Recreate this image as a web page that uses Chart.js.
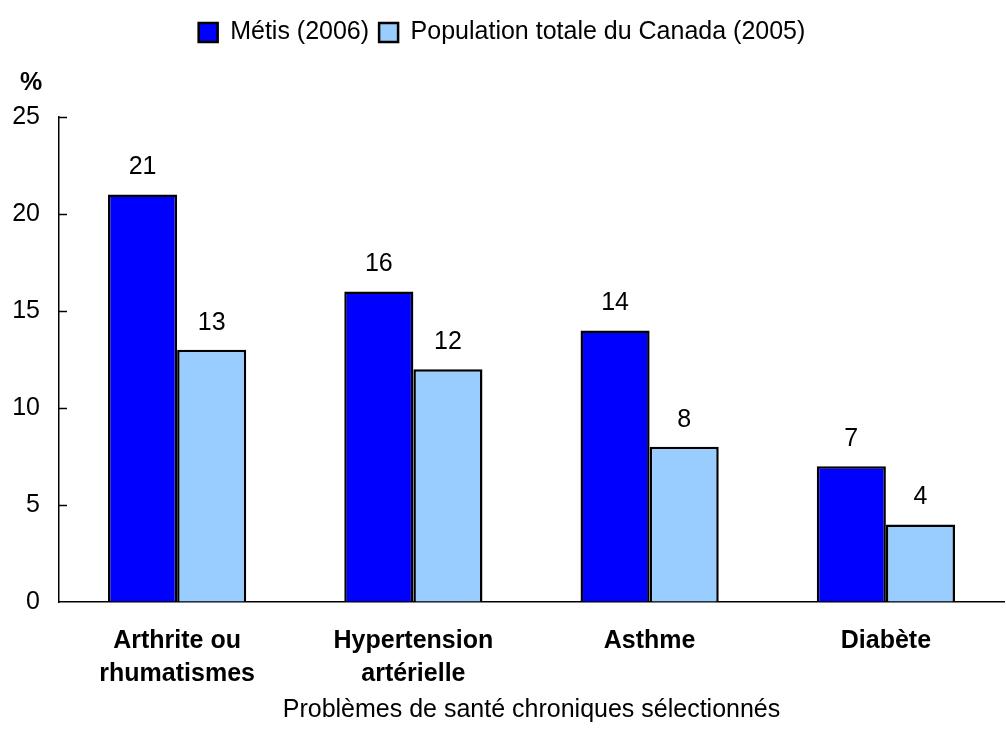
<!DOCTYPE html>
<html>
<head>
<meta charset="utf-8">
<script src="https://cdn.jsdelivr.net/npm/chart.js@4/dist/chart.umd.min.js"></script>
<style>
  html, body { margin: 0; padding: 0; background: #fff; }
  #wrap { width: 1006px; height: 739px; }
</style>
</head>
<body>
<div id="wrap"><canvas id="grafico"></canvas></div>
<script>
const categorias = [
    ['Arthrite ou', 'rhumatismes'],
    ['Hypertension', 'artérielle'],
    'Asthme',
    'Diabète'
];
const metis = [21, 16, 14, 7];
const populationCanada = [13, 12, 8, 4];
const ticksY = [0, 5, 10, 15, 20, 25];

const fuente = "'Liberation Sans', Arial, sans-serif";
Chart.defaults.font.family = fuente;
Chart.defaults.color = '#000';

// etiquetas de valor encima de cada barra
const valoresEncima = {
    id: 'valoresEncima',
    afterDatasetsDraw(chart) {
        const ctx = chart.ctx;
        ctx.save();
        ctx.font = '25px ' + fuente;
        ctx.fillStyle = '#000';
        ctx.textAlign = 'center';
        ctx.textBaseline = 'middle';
        chart.data.datasets.forEach((ds, i) => {
            chart.getDatasetMeta(i).data.forEach((barra, j) => {
                ctx.fillText(ds.data[j], barra.x, barra.y - 27);
            });
        });
        ctx.restore();
    }
};

// marcas del eje Y hacia adentro y el símbolo %
const ejeY = {
    id: 'ejeY',
    afterDraw(chart) {
        const y = chart.scales.y;
        const ctx = chart.ctx;
        ctx.save();
        ctx.strokeStyle = '#000';
        ctx.lineWidth = 1.5;
        ticksY.forEach(v => {
            if (v === 0) return;
            const py = Math.round(y.getPixelForValue(v)) + 0.5;
            ctx.beginPath();
            ctx.moveTo(y.right, py);
            ctx.lineTo(y.right + 8, py);
            ctx.stroke();
        });
        ctx.font = 'bold 25px ' + fuente;
        ctx.fillStyle = '#000';
        ctx.textAlign = 'center';
        ctx.textBaseline = 'middle';
        ctx.fillText('%', 31, y.top - 34);
        ctx.restore();
    }
};

// espacio extra bajo la leyenda
const altoLeyenda = {
    id: 'altoLeyenda',
    beforeInit(chart) {
        const fitOriginal = chart.legend.fit;
        chart.legend.fit = function () {
            fitOriginal.bind(chart.legend)();
            this.height += 62;
        };
    }
};

const ctx = document.getElementById('grafico').getContext('2d');
new Chart(ctx, {
    type: 'bar',
    data: {
        labels: categorias,
        datasets: [
            {
                label: 'Métis (2006)',
                data: metis,
                backgroundColor: '#0000FF',
                borderColor: '#000',
                borderWidth: 2.5
            },
            {
                label: 'Population totale du Canada (2005)',
                data: populationCanada,
                backgroundColor: '#99CCFF',
                borderColor: '#000',
                borderWidth: 2.5
            }
        ]
    },
    options: {
        responsive: true,
        maintainAspectRatio: false,
        animation: false,
        layout: { padding: { top: 10, right: 2, left: 0, bottom: 0 } },
        datasets: {
            bar: { categoryPercentage: 0.585, barPercentage: 1 }
        },
        plugins: {
            legend: {
                position: 'top',
                labels: {
                    boxWidth: 19,
                    boxHeight: 19,
                    padding: 10,
                    font: { size: 25 },
                    color: '#000'
                }
            },
            tooltip: { enabled: false }
        },
        scales: {
            x: {
                grid: { display: true, drawOnChartArea: false, drawTicks: false },
                border: { display: true, color: '#000', width: 1.5 },
                ticks: {
                    font: { size: 25, weight: 'bold', lineHeight: 1.32 },
                    padding: 23,
                    maxRotation: 0,
                    autoSkip: false
                },
                title: {
                    display: true,
                    text: 'Problèmes de santé chroniques sélectionnés',
                    font: { size: 25 },
                    padding: { top: 0, bottom: 14 }
                },
                afterFit(scale) { scale.height = 137; }
            },
            y: {
                min: 0,
                max: 25,
                grid: { display: true, drawOnChartArea: false, drawTicks: false },
                border: { display: true, color: '#000', width: 1.5 },
                afterBuildTicks(scale) { scale.ticks = ticksY.map(v => ({ value: v })); },
                ticks: {
                    font: { size: 25 },
                    padding: 19
                },
                afterFit(scale) { scale.width = 59; }
            }
        }
    },
    plugins: [valoresEncima, ejeY, altoLeyenda]
});
</script>
</body>
</html>
